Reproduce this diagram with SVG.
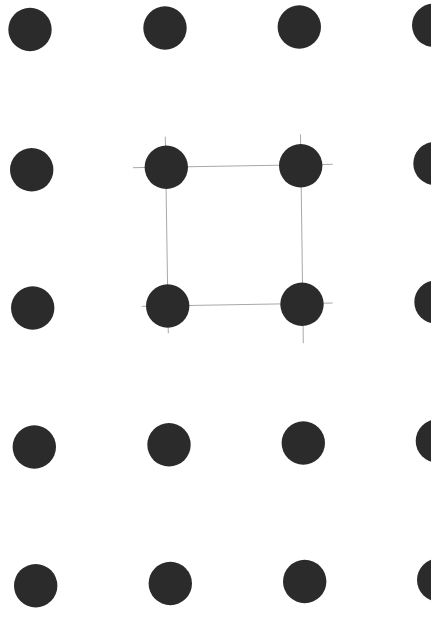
<svg xmlns="http://www.w3.org/2000/svg" width="431" height="619" viewBox="0 0 431 619">
<style>
.dot{fill:#2b2b2b}
.ln{stroke:#a8a8a8;stroke-width:1;fill:none}
</style>
<rect width="431" height="619" fill="#ffffff"/>
<g id="connectors">
<line class="ln" x1="133" y1="167.7" x2="332.7" y2="164.3"/>
<line class="ln" x1="141.7" y1="306.3" x2="332.7" y2="303"/>
<line class="ln" x1="165.3" y1="136.7" x2="168.3" y2="333.3"/>
<line class="ln" x1="300.5" y1="134.3" x2="303.3" y2="343.3"/>
</g>
<g id="dot-r1c1"><circle class="dot" cx="30" cy="29.5" r="21.7"/></g>
<g id="dot-r1c2"><circle class="dot" cx="165" cy="28" r="21.7"/></g>
<g id="dot-r1c3"><circle class="dot" cx="299.3" cy="27" r="21.7"/></g>
<g id="dot-r1c4"><circle class="dot" cx="433.7" cy="25.3" r="21.7"/></g>
<g id="dot-r2c1"><circle class="dot" cx="31.7" cy="169.8" r="21.7"/></g>
<g id="dot-r2c2"><circle class="dot" cx="166.3" cy="167.3" r="21.7"/></g>
<g id="dot-r2c3"><circle class="dot" cx="300.7" cy="165.8" r="21.7"/></g>
<g id="dot-r2c4"><circle class="dot" cx="435" cy="163.5" r="21.7"/></g>
<g id="dot-r3c1"><circle class="dot" cx="32.7" cy="308" r="21.7"/></g>
<g id="dot-r3c2"><circle class="dot" cx="167.7" cy="306" r="21.7"/></g>
<g id="dot-r3c3"><circle class="dot" cx="302" cy="304.3" r="21.7"/></g>
<g id="dot-r3c4"><circle class="dot" cx="436" cy="302" r="21.7"/></g>
<g id="dot-r4c1"><circle class="dot" cx="34.3" cy="447" r="21.7"/></g>
<g id="dot-r4c2"><circle class="dot" cx="169" cy="444.8" r="21.7"/></g>
<g id="dot-r4c3"><circle class="dot" cx="303.3" cy="443" r="21.7"/></g>
<g id="dot-r4c4"><circle class="dot" cx="437.4" cy="441" r="21.7"/></g>
<g id="dot-r5c1"><circle class="dot" cx="35.7" cy="585.7" r="21.7"/></g>
<g id="dot-r5c2"><circle class="dot" cx="170.3" cy="583.5" r="21.7"/></g>
<g id="dot-r5c3"><circle class="dot" cx="304.7" cy="581.5" r="21.7"/></g>
<g id="dot-r5c4"><circle class="dot" cx="438.7" cy="580" r="21.7"/></g>
</svg>
